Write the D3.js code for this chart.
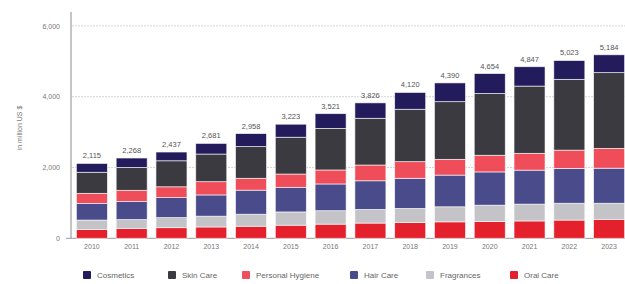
<!DOCTYPE html>
<html>
<head>
<meta charset="utf-8">
<script src="https://cdn.jsdelivr.net/npm/d3@7"></script>
<style>
  body { margin: 0; background: #fff; }
  svg { display: block; font-family: "Liberation Sans", Arial, sans-serif; }
</style>
</head>
<body>
<script>
"use strict";

// data (million US $)
const years = ["2010", "2011", "2012", "2013", "2014", "2015", "2016", "2017", "2018", "2019", "2020", "2021", "2022", "2023"];
const totals = [2115, 2268, 2437, 2681, 2958, 3223, 3521, 3826, 4120, 4390, 4654, 4847, 5023, 5184];
const oralCare = [250, 280, 300, 320, 340, 370, 400, 430, 445, 465, 475, 490, 515, 535];
const fragrances = [265, 250, 285, 305, 340, 375, 380, 385, 400, 425, 460, 475, 475, 455];
const hairCare = [470, 510, 565, 600, 680, 695, 755, 810, 850, 895, 940, 960, 985, 990];
const personalHygiene = [285, 315, 305, 375, 335, 375, 395, 445, 470, 445, 470, 475, 515, 560];
const skinCare = [595, 645, 735, 780, 895, 1040, 1175, 1320, 1480, 1630, 1745, 1900, 2000, 2140];
const cosmetics = [250, 268, 247, 301, 368, 368, 416, 436, 475, 530, 564, 547, 533, 504];
const yTicks = [0, 2000, 4000, 6000];

// stacking order, bottom first
const series = [
    {key: "Oral Care", values: oralCare, color: "#e4202c"},
    {key: "Fragrances", values: fragrances, color: "#c4c3c8"},
    {key: "Hair Care", values: hairCare, color: "#4a4b8a"},
    {key: "Personal Hygiene", values: personalHygiene, color: "#ee4d59"},
    {key: "Skin Care", values: skinCare, color: "#3a3a40"},
    {key: "Cosmetics", values: cosmetics, color: "#221b5c"}
];
const legendOrder = ["Cosmetics", "Skin Care", "Personal Hygiene", "Hair Care", "Fragrances", "Oral Care"];

const W = 625, H = 284;

const svg = d3.select("body").append("svg")
    .attr("width", W)
    .attr("height", H);

const rows = years.map(function (y, i) {
    let r = {year: y};
    series.forEach(function (s) { r[s.key] = s.values[i]; });
    return r;
});

const stack = d3.stack().keys(series.map(s => s.key));
const stacked = stack(rows);

let x = d3.scaleBand()
    .domain(years)
    .range([72, 629])
    .paddingInner(0.22)
    .paddingOuter(0.11);

let y = d3.scaleLinear()
    .domain([0, 6000])
    .range([238.3, 25.9]);

// gridlines
svg.append("g")
    .selectAll("line")
    .data(yTicks.filter(t => t > 0))
    .enter().append("line")
    .attr("x1", 72).attr("x2", W)
    .attr("y1", d => y(d)).attr("y2", d => y(d))
    .attr("stroke", "#d6d6d6")
    .attr("stroke-width", 1)
    .attr("stroke-dasharray", "2,1");

// y axis
let yAxis = d3.axisLeft(y)
    .tickValues(yTicks)
    .tickFormat(d3.format(","))
    .tickSize(0)
    .tickPadding(11);

let gy = svg.append("g")
    .attr("transform", "translate(71,0)")
    .call(yAxis);
gy.select(".domain").remove();
gy.selectAll("text")
    .attr("fill", "#777")
    .style("font-size", "7px");

svg.append("line")
    .attr("x1", 71).attr("x2", 71)
    .attr("y1", 12).attr("y2", y(0))
    .attr("stroke", "#8a8a8a")
    .attr("stroke-width", 1);

svg.append("line")
    .attr("x1", 66).attr("x2", W)
    .attr("y1", y(0)).attr("y2", y(0))
    .attr("stroke", "#9a9a9a")
    .attr("stroke-width", 1);

svg.append("text")
    .attr("transform", "translate(22," + 128 + ") rotate(-90)")
    .attr("text-anchor", "middle")
    .attr("fill", "#777")
    .style("font-size", "7px")
    .text("in million US $");

// bars
let layers = svg.append("g")
    .selectAll("g.layer")
    .data(stacked)
    .enter().append("g")
    .attr("class", "layer")
    .attr("fill", (d, i) => series[i].color);

layers.selectAll("rect")
    .data(d => d)
    .enter().append("rect")
    .attr("x", d => x(d.data.year))
    .attr("width", x.bandwidth())
    .attr("y", d => y(d[1]))
    .attr("height", d => y(d[0]) - y(d[1]))
    .attr("stroke", "#fff")
    .attr("stroke-opacity", 0.75)
    .attr("stroke-width", 0.8);

// totals above bars
svg.append("g")
    .selectAll("text")
    .data(years)
    .enter().append("text")
    .attr("x", d => x(d) + x.bandwidth() / 2)
    .attr("y", (d, i) => y(totals[i]) - 5)
    .attr("text-anchor", "middle")
    .attr("fill", "#555")
    .style("font-size", "7.5px")
    .text((d, i) => d3.format(",")(totals[i]));

// x axis
let xAxis = d3.axisBottom(x).tickSize(0).tickPadding(6);
let gx = svg.append("g")
    .attr("transform", "translate(0," + y(0) + ")")
    .call(xAxis);
gx.select(".domain").remove();
gx.selectAll("text")
    .attr("fill", "#777")
    .style("font-size", "7px");

// legend
const legendX = [83, 168, 242, 350, 426, 510];
let legend = svg.append("g")
    .selectAll("g")
    .data(legendOrder)
    .enter().append("g")
    .attr("transform", (d, i) => "translate(" + legendX[i] + ",271)");

legend.append("rect")
    .attr("width", 8).attr("height", 8)
    .attr("rx", 1)
    .attr("fill", d => series.find(s => s.key === d).color);

legend.append("text")
    .attr("x", 14)
    .attr("y", 7)
    .attr("fill", "#666")
    .style("font-size", "8px")
    .text(d => d);
</script>
</body>
</html>
